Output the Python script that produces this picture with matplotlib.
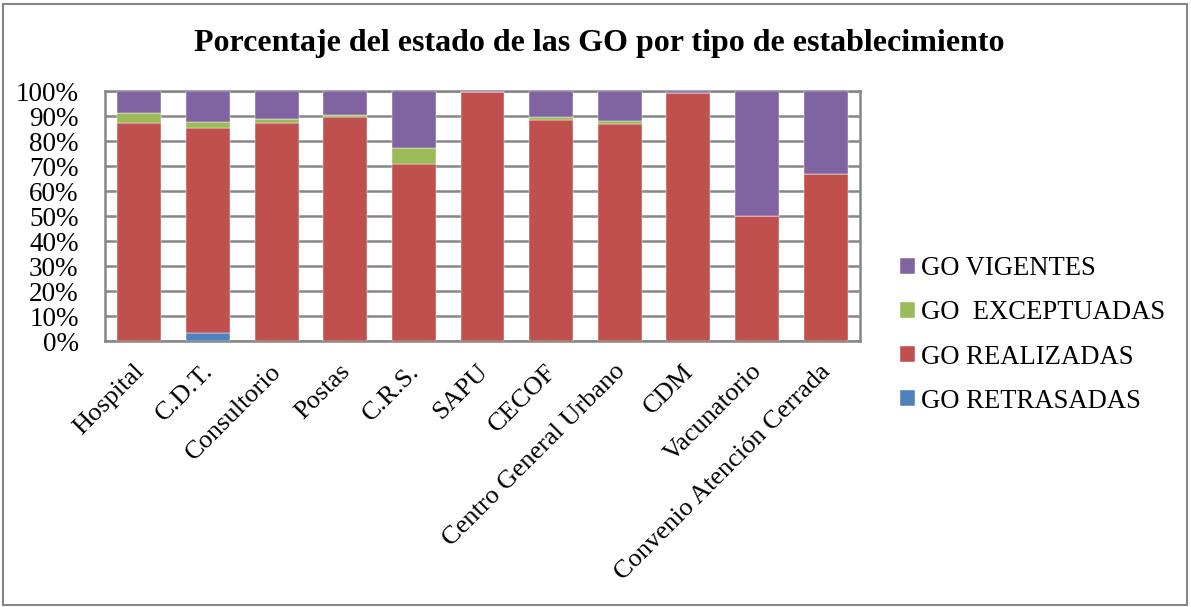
import numpy as np
import matplotlib as mpl
mpl.use('Agg')
import matplotlib.pyplot as plt
import matplotlib.transforms as mtransforms
from matplotlib.patches import Rectangle

categories = ['Hospital', 'C.D.T.', 'Consultorio', 'Postas', 'C.R.S.', 'SAPU',
              'CECOF', 'Centro General Urbano', 'CDM', 'Vacunatorio',
              'Convenio Atención Cerrada']
retrasadas = [0.0, 3.1, 0.0, 0.0, 0.0, 0.0, 0.0, 0.0, 0.0, 0.0, 0.0]
realizadas = [87.3, 82.2, 87.2, 89.5, 70.9, 99.7, 88.5, 86.9, 99.3, 50.0, 66.7]
exceptuadas = [3.8, 2.4, 1.6, 0.9, 6.2, 0.0, 1.2, 1.1, 0.0, 0.0, 0.0]
vigentes = [8.9, 12.3, 11.2, 9.6, 22.9, 0.3, 10.3, 12.0, 0.7, 50.0, 33.3]

series = [('GO RETRASADAS', retrasadas, '#4F81BD'),
          ('GO REALIZADAS', realizadas, '#C0504D'),
          ('GO  EXCEPTUADAS', exceptuadas, '#9BBB59'),
          ('GO VIGENTES', vigentes, '#8064A2')]

plt.rcParams['font.family'] = ['Liberation Serif', 'DejaVu Serif']

fig = plt.figure(figsize=(11.91, 6.07), dpi=100)
ax = fig.add_axes([105 / 1191, 1 - 341 / 607, 755 / 1191, 250 / 607])

x = np.arange(len(categories))
bottom = np.zeros(len(categories))
handles = []
for name, vals, col in series:
    vals = np.array(vals)
    h = ax.bar(x, vals, 0.64, bottom=bottom, color=col, label=name,
               edgecolor='white', linewidth=0.3, zorder=3)
    handles.append(h)
    bottom += vals

ax.set_xlim(-0.5, len(categories) - 0.5)
ax.set_ylim(0, 100)
ax.set_yticks(np.arange(0, 101, 10))
ax.set_yticklabels(['%d%%' % v for v in range(0, 101, 10)], fontsize=19.5)
ax.tick_params(axis='y', length=0, pad=19)
ax.set_xticks(x)
ax.set_xticklabels(categories, rotation=45, ha='right', va='top',
                   rotation_mode='anchor', fontsize=19)
ax.tick_params(axis='x', length=0, pad=16)
# nudge rotated labels a little left/up
offset = mtransforms.ScaledTranslation(-6 / 100, 3 / 100, fig.dpi_scale_trans)
for lbl in ax.get_xticklabels():
    lbl.set_transform(lbl.get_transform() + offset)
ax.grid(axis='y', color='#868686', linewidth=1.8, zorder=0)
for s in ax.spines.values():
    s.set_color('#868686')
    s.set_linewidth(1.8)

fig.text(0.503, 1 - 43 / 607, 'Porcentaje del estado de las GO por tipo de establecimiento',
         ha='center', va='center', fontsize=23, fontweight='bold')

leg = fig.legend(handles[::-1], [s[0] for s in series][::-1],
                 loc='center left', bbox_to_anchor=(876 / 1191, 1 - 335 / 607),
                 frameon=False, fontsize=19.2, handlelength=0.55, handleheight=0.55,
                 handletextpad=0.25, labelspacing=0.72)

fig.patches.append(Rectangle((3 / 1191, 2 / 607), 1184 / 1191, 601 / 607,
                             transform=fig.transFigure, fill=False,
                             edgecolor='#868686', linewidth=1.5))

plt.savefig('out.png', dpi=100)
plt.close()
